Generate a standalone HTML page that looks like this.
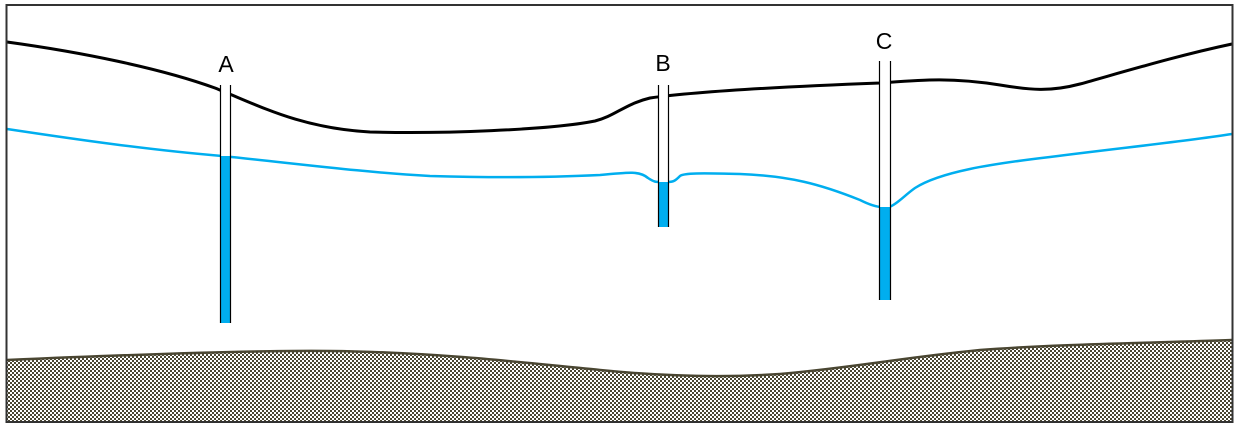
<!DOCTYPE html>
<html><head><meta charset="utf-8"><style>
html,body{margin:0;padding:0;background:#fff;}
svg{display:block;}
text{font-family:"Liberation Sans",sans-serif;font-size:23px;fill:#000;}
</style></head><body>
<svg width="1238" height="429" viewBox="0 0 1238 429" xmlns="http://www.w3.org/2000/svg">
<defs>
<pattern id="chk" width="4" height="4" patternUnits="userSpaceOnUse">
<rect width="4" height="4" fill="#fff"/>
<rect x="0" y="0" width="2" height="2" fill="#4a4632"/>
<rect x="2" y="2" width="2" height="2" fill="#4a4632"/>
</pattern>
</defs>
<!-- bedrock -->
<path d="M7,360 C100,356 250,350 330,351 C430,352 520,362 600,370 C660,376 720,378 780,374 C850,368 900,358 980,350 C1060,344 1150,343 1232,340 L1232,422 L7,422 Z" fill="url(#chk)"/>
<path d="M7,360 C100,356 250,350 330,351 C430,352 520,362 600,370 C660,376 720,378 780,374 C850,368 900,358 980,350 C1060,344 1150,343 1232,340" fill="none" stroke="#4a4632" stroke-width="2.5"/>
<!-- ground surface -->
<path d="M7,42 C80,52 160,68 215,88 C260,106 300,128 370,132 C440,134 550,130 595,121 C615,116 625,104 650,98 C700,91 800,86 880,83 C920,80 950,77 1000,85 C1030,90 1050,92 1080,84 C1130,70 1180,55 1232,44" fill="none" stroke="#000" stroke-width="3"/>
<!-- water table -->
<path d="M7,129 C80,140 150,150 222,156 C300,164 360,172 430,176 C500,178 560,177 600,175 C630,172 640,171 648,178 C654,182 656,182 660,182 L668,182 C674,182 676,180 680,176 C684,173 700,173 740,174 C790,176 820,184 860,200 C872,206 878,207 882,207 L889,207 C896,205 905,195 915,188 C940,172 990,164 1050,157 C1120,148 1180,142 1232,134" fill="none" stroke="#00aeef" stroke-width="2.5"/>
<!-- wells -->
<g stroke="#000" stroke-width="1.2">
<rect x="220.5" y="85" width="10" height="238" fill="#fff" stroke="none"/>
<rect x="220.5" y="156" width="10" height="167" fill="#00aeef" stroke="none"/>
<line x1="220.5" y1="85" x2="220.5" y2="323"/><line x1="230.5" y1="85" x2="230.5" y2="323"/>
<rect x="658.5" y="85" width="10" height="142" fill="#fff" stroke="none"/>
<rect x="658.5" y="182" width="10" height="45" fill="#00aeef" stroke="none"/>
<line x1="658.5" y1="85" x2="658.5" y2="227"/><line x1="668.5" y1="85" x2="668.5" y2="227"/>
<rect x="879.5" y="61" width="11" height="239" fill="#fff" stroke="none"/>
<rect x="879.5" y="207" width="11" height="93" fill="#00aeef" stroke="none"/>
<line x1="879.5" y1="61" x2="879.5" y2="300"/><line x1="890.5" y1="61" x2="890.5" y2="300"/>
</g>
<text x="226" y="72" text-anchor="middle">A</text>
<text x="663" y="71" text-anchor="middle">B</text>
<text x="884" y="49" text-anchor="middle">C</text>
<rect x="6.5" y="5" width="1226" height="417" fill="none" stroke="#333" stroke-width="2"/>
</svg>
</body></html>
